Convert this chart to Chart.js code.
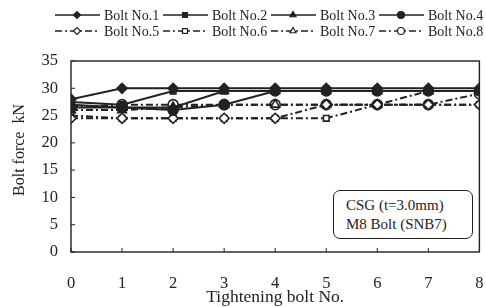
<!DOCTYPE html>
<html>
<head>
<meta charset="utf-8">
<script src="https://cdn.jsdelivr.net/npm/chart.js@4"></script>
<style>
  html, body { margin: 0; padding: 0; background: #fff; }
  #wrap { position: relative; width: 486px; height: 307px; }
  #note {
    position: absolute; left: 333px; top: 190px; width: 140px; height: 49px;
    border: 1.6px solid #222; border-radius: 7px; box-sizing: border-box;
    font-family: "Liberation Serif", serif; font-size: 15px; color: #222;
    padding: 5px 0 0 12px; line-height: 19px; background: #fff;
  }
</style>
</head>
<body>
<div id="wrap">
  <canvas id="c" width="486" height="307"></canvas>
  <div id="note">CSG (t=3.0mm)<br>M8 Bolt (SNB7)</div>
</div>
<script>
// tightening step 0..8
const steps = [0, 1, 2, 3, 4, 5, 6, 7, 8];
const bolt1 = [28, 30, 30, 30, 30, 30, 30, 30, 30];
const bolt2 = [27.5, 27, 29.5, 29.5, 29.5, 29.5, 29.5, 29.5, 29.5];
const bolt3 = [27, 26.5, 26.5, 29.5, 29.5, 29.5, 29.5, 29.5, 29.5];
const bolt4 = [26.5, 26.5, 26, 27, 29.5, 29.5, 29.5, 29.5, 29.5];
const bolt5 = [24.5, 24.5, 24.5, 24.5, 24.5, 27, 27, 27, 27];
const bolt6 = [25, 24.5, 24.5, 24.5, 24.5, 24.5, 27, 27, 27];
const bolt7 = [26, 26, 26.5, 27, 27, 27, 27, 29.5, 29.5];
const bolt8 = [26.5, 27, 27, 27, 27, 27, 27, 27, 29];
const yTicks = [0, 5, 10, 15, 20, 25, 30, 35];

const ink = '#222';
const dashDot = [7, 3, 2, 3];
const serif = '"Liberation Serif", serif';

function series(label, vals, marker, open) {
  return {
    label: label,
    data: steps.map((s, i) => ({ x: s, y: vals[i] })),
    borderColor: ink,
    borderWidth: 2,
    borderDash: open ? dashDot : [],
    pointStyle: marker,
    pointRadius: marker === 'rect' ? 4 : 5,
    pointBackgroundColor: open ? '#fff' : ink,
    pointBorderColor: ink,
    pointBorderWidth: 1.6,
    tension: 0
  };
}

const datasets = [
  series('Bolt No.1', bolt1, 'rectRot', false),
  series('Bolt No.2', bolt2, 'rect', false),
  series('Bolt No.3', bolt3, 'triangle', false),
  series('Bolt No.4', bolt4, 'circle', false),
  series('Bolt No.5', bolt5, 'rectRot', true),
  series('Bolt No.6', bolt6, 'rect', true),
  series('Bolt No.7', bolt7, 'triangle', true),
  series('Bolt No.8', bolt8, 'circle', true)
];

// legend: two rows of line+marker samples, drawn on the canvas
const legendPlugin = {
  id: 'lineLegend',
  afterDraw(chart) {
    const ctx = chart.ctx;
    const xs = [55, 163, 271, 379];
    const ys = [15, 31];
    ctx.save();
    ctx.font = '14px ' + serif;
    ctx.textBaseline = 'middle';
    chart.data.datasets.forEach((ds, i) => {
      const x0 = xs[i % 4], y = ys[Math.floor(i / 4)];
      ctx.strokeStyle = ink;
      ctx.lineWidth = 1.5;
      ctx.setLineDash(ds.borderDash);
      ctx.beginPath();
      ctx.moveTo(x0, y);
      ctx.lineTo(x0 + 45, y);
      ctx.stroke();
      ctx.setLineDash([]);
      ctx.fillStyle = ds.pointBackgroundColor;
      ctx.strokeStyle = ink;
      ctx.lineWidth = 1.2;
      Chart.helpers.drawPoint(ctx, { pointStyle: ds.pointStyle, radius: 3.5, borderWidth: 1.2 }, x0 + 22, y);
      ctx.fillStyle = ink;
      ctx.fillText(ds.label, x0 + 49, y + 1);
    });
    ctx.restore();
  }
};

// frame around the plot, inward tick marks, y axis title
const framePlugin = {
  id: 'frame',
  afterDraw(chart) {
    const { ctx, chartArea: a, scales } = chart;
    ctx.save();
    ctx.strokeStyle = ink;
    ctx.lineWidth = 1.4;
    ctx.strokeRect(a.left, a.top, a.right - a.left, a.bottom - a.top);
    ctx.lineWidth = 1;
    yTicks.forEach(v => {
      const y = scales.y.getPixelForValue(v);
      ctx.beginPath(); ctx.moveTo(a.left, y); ctx.lineTo(a.left + 4, y); ctx.stroke();
    });
    steps.forEach(v => {
      const x = scales.x.getPixelForValue(v);
      ctx.beginPath(); ctx.moveTo(x, a.bottom); ctx.lineTo(x, a.bottom - 4); ctx.stroke();
    });
    ctx.translate(20, 150);
    ctx.rotate(-Math.PI / 2);
    ctx.font = '16px ' + serif;
    ctx.fillStyle = ink;
    ctx.textAlign = 'center';
    ctx.textBaseline = 'middle';
    ctx.fillText('Bolt force  kN', 0, 0);
    ctx.restore();
  }
};

new Chart(document.getElementById('c'), {
  type: 'line',
  data: { datasets: datasets },
  options: {
    responsive: false,
    animation: false,
    layout: { padding: { top: 61, right: 5, left: 10, bottom: 0 } },
    plugins: { legend: { display: false }, tooltip: { enabled: false } },
    scales: {
      x: {
        type: 'linear', min: 0, max: 8,
        afterFit(s) { s.height = 55; s.paddingLeft = 0; s.paddingRight = 5; },
        afterBuildTicks(s) { s.ticks = steps.map(v => ({ value: v })); },
        grid: { display: false, drawTicks: false },
        border: { display: false },
        ticks: {
          color: ink, padding: 22,
          font: { family: serif, size: 16.5 }
        },
        title: {
          display: true, text: 'Tightening bolt No.', color: ink,
          font: { family: serif, size: 17.5 },
          padding: { top: 0, bottom: -1 }
        }
      },
      y: {
        min: 0, max: 35,
        afterFit(s) { s.width = 61; },
        afterBuildTicks(s) { s.ticks = yTicks.map(v => ({ value: v })); },
        grid: { display: false, drawTicks: false },
        border: { display: false },
        ticks: {
          color: ink, padding: 13,
          font: { family: serif, size: 16.5 }
        },
        title: { display: false }
      }
    }
  },
  plugins: [legendPlugin, framePlugin]
});
</script>
</body>
</html>
